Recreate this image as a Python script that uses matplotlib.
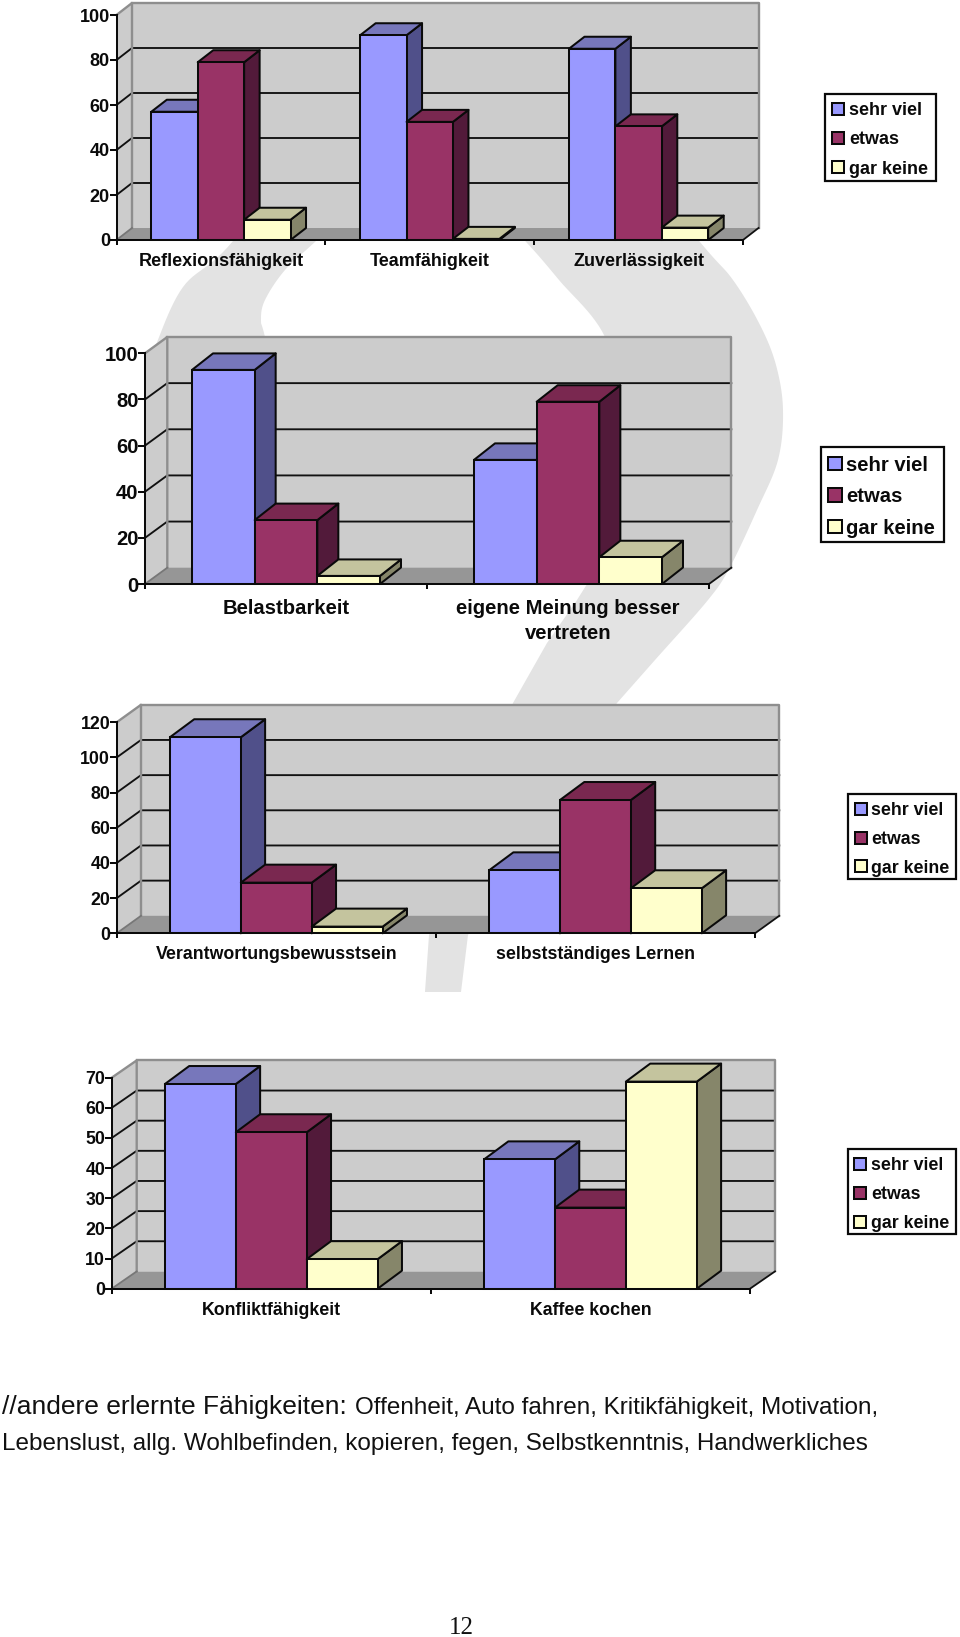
import numpy as np
import matplotlib
matplotlib.use("Agg")
import matplotlib.pyplot as plt
from matplotlib.patches import Polygon, Rectangle, Patch

plt.rcParams['font.family'] = ['Liberation Sans', 'DejaVu Sans']

W, H = 960, 1637
SERIES = ['sehr viel', 'etwas', 'gar keine']
FRONT = ['#9999ff', '#993366', '#ffffcc']
TOP = ['#7777bb', '#7a2850', '#c4c49e']
SIDE = ['#50508a', '#521a3a', '#86866a']

cats1 = ['Reflexionsfähigkeit', 'Teamfähigkeit', 'Zuverlässigkeit']
sehr1 = [57, 91, 85]
etwas1 = [79, 52.5, 50.5]
gar1 = [9, 0.5, 5.5]
ticks1 = [0, 20, 40, 60, 80, 100]

cats2 = ['Belastbarkeit', 'eigene Meinung besser\nvertreten']
sehr2 = [92.8, 53.8]
etwas2 = [27.7, 79]
gar2 = [3.5, 11.6]
ticks2 = [0, 20, 40, 60, 80, 100]

cats3 = ['Verantwortungsbewusstsein', 'selbstständiges Lernen']
sehr3 = [111.5, 35.8]
etwas3 = [28.8, 75.8]
gar3 = [3.8, 25.6]
ticks3 = [0, 20, 40, 60, 80, 100, 120]

cats4 = ['Konfliktfähigkeit', 'Kaffee kochen']
sehr4 = [67.9, 42.9]
etwas4 = [51.9, 26.9]
gar4 = [9.8, 68.7]
ticks4 = [0, 10, 20, 30, 40, 50, 60, 70]

fig = plt.figure(figsize=(W / 100, H / 100), dpi=100, facecolor='white')
PT = 0.72
INK = '#0a0a0a'
LW = 1.45

# page-level layer, in pixels
bg = fig.add_axes([0, 0, 1, 1], zorder=-1)
bg.set_xlim(0, W)
bg.set_ylim(H, 0)
bg.axis('off')


def smooth(pts, n=12):
    p = np.array(pts, float)
    p = np.vstack([p[0], p, p[-1]])
    out = []
    for i in range(1, len(p) - 2):
        for t in np.linspace(0, 1, n, endpoint=False):
            a, b, c, d = p[i - 1], p[i], p[i + 1], p[i + 2]
            out.append(0.5 * (2 * b + (c - a) * t + (2 * a - 5 * b + 4 * c - d) * t ** 2
                              + (3 * b - a - 3 * c + d) * t ** 3))
    out.append(p[-2])
    return out


# watermark question mark behind the charts
outer = smooth([(155, 347), (183, 287), (233, 241), (330, 110), (450, 50), (600, 120), (700, 242),
                (733, 280), (760, 325), (776, 365), (783, 410), (778, 460), (757, 510), (730, 567),
                (708, 600), (655, 660), (617, 703)])
inner = smooth([(640, 500), (625, 420), (605, 337), (559, 280), (527, 243), (495, 212), (420, 175), (370, 190),
                (316, 241), (285, 270), (265, 300), (261, 320), (265, 337), (285, 420)])
mark = ([(425, 992), (429, 935), (513, 703), (547, 643), (577, 600)] + inner
        + [(155, 420)] + outer + [(468, 935), (461, 992)])
bg.add_patch(Polygon(mark, closed=True, fc='#e3e3e3', ec='none'))


def chart(cats, sehr, etwas, gar, ticks, x0, x1, y0, ytop, dx, dy, bdx, bdy, fs, pad,
          box, swatch_x, first_row, pitch):
    px_w = x1 - x0
    px_h = y0 - ytop
    ax = fig.add_axes([x0 / W, 1 - y0 / H, px_w / W, px_h / H])
    ax.patch.set_visible(False)
    n = len(cats)
    vmax = ticks[-1]
    ax.set_xlim(-0.5, n - 0.5)
    ax.set_ylim(0, vmax)
    gu = n / px_w
    vu = vmax / px_h
    ddx, ddy = dx * gu, dy * vu
    bx, by = bdx * gu, bdy * vu
    L, R = -0.5, n - 0.5

    # walls and floor
    wall = '#cccccc'
    edge = '#8e8e8e'
    ax.add_patch(Polygon([(L, 0), (L + ddx, ddy), (L + ddx, vmax + ddy), (L, vmax)],
                         fc=wall, ec='none', clip_on=False, zorder=1))
    ax.add_patch(Rectangle((L + ddx, ddy), R - L, vmax, fc=wall, ec='none', clip_on=False, zorder=1))
    ax.add_patch(Polygon([(L, 0), (R, 0), (R + ddx, ddy), (L + ddx, ddy)],
                         fc='#969696', ec='none', clip_on=False, zorder=1.1))
    for v in ticks[1:-1]:
        ax.plot([L, L + ddx, R + ddx], [v, v + ddy, v + ddy], color='#111111', lw=1.35,
                clip_on=False, zorder=1.2, solid_joinstyle='miter')
    ax.plot([L, L + ddx, L + ddx], [vmax, vmax + ddy, ddy], color=edge, lw=1.7, clip_on=False, zorder=1.3)
    ax.plot([L + ddx, R + ddx, R + ddx], [vmax + ddy, vmax + ddy, ddy], color=edge, lw=1.7,
            clip_on=False, zorder=1.3)
    ax.plot([L, L + ddx], [0, ddy], color='#777777', lw=1.3, clip_on=False, zorder=1.3)
    ax.plot([R, R + ddx], [0, ddy], color='#111111', lw=1.3, clip_on=False, zorder=1.3)

    # bars
    width = 1 / 4.5
    z = 2.0
    for i in range(n):
        for j, vals in enumerate([sehr, etwas, gar]):
            v = vals[i]
            left = i + (j - 1.5) * width
            right = left + width
            ax.add_patch(Polygon([(right, 0), (right + bx, by), (right + bx, v + by), (right, v)],
                                 fc=SIDE[j], ec=INK, lw=LW, clip_on=False, zorder=z,
                                 joinstyle='round'))
            ax.add_patch(Polygon([(left, v), (left + bx, v + by), (right + bx, v + by), (right, v)],
                                 fc=TOP[j], ec=INK, lw=LW, clip_on=False, zorder=z + 0.01,
                                 joinstyle='round'))
            ax.bar(left, v, width=width, align='edge', color=FRONT[j], edgecolor=INK,
                   linewidth=LW, zorder=z + 0.02, clip_on=False)
            z += 0.1

    # axes
    for s in ['top', 'right']:
        ax.spines[s].set_visible(False)
    for s in ['left', 'bottom']:
        ax.spines[s].set_linewidth(LW)
        ax.spines[s].set_color(INK)
        ax.spines[s].set_zorder(50)
    ax.set_yticks(ticks)
    ax.tick_params(axis='y', length=5, width=LW, pad=-0.3, labelsize=fs * PT, color=INK)
    ax.set_xticks(range(n))
    ax.set_xticklabels(cats, fontsize=fs * PT)
    ax.tick_params(axis='x', which='major', length=0, pad=pad)
    ax.set_xticks(np.arange(-0.5, n), minor=True)
    ax.tick_params(axis='x', which='minor', length=3.6, width=LW, color=INK)
    for t in ax.get_xticklabels():
        t.set_fontweight('bold')
        t.set_linespacing(1.4)
        t.set_color(INK)
    for t in ax.get_yticklabels():
        t.set_fontweight('bold')
        t.set_color(INK)

    # legend
    bx0, by0, bx1, by1 = box
    bg.add_patch(Rectangle((bx0, by0), bx1 - bx0, by1 - by0, fc='white', ec=INK, lw=1.6))
    sw = pitch * 0.42
    hs = [Patch(fc=FRONT[k], ec=INK, lw=LW, label=SERIES[k]) for k in range(3)]
    row_h = fs * 0.94
    leg = fig.legend(handles=hs, loc='upper left', frameon=False, prop={'weight': 'bold', 'size': fs * PT},
                     bbox_to_anchor=(swatch_x / W, 1 - (first_row + 1.8 - row_h / 2) / H), borderpad=0,
                     borderaxespad=0, handlelength=sw / fs, handleheight=sw / fs,
                     handletextpad=4.7 / fs, labelspacing=(pitch - row_h) / fs)
    for t in leg.get_texts():
        t.set_color(INK)
    return ax


chart(cats1, sehr1, etwas1, gar1, ticks1, 116.5, 743, 240, 15, 15.5, 12, 15.5, 12, 18, 9.4,
      (825.3, 94.3, 936, 181.3), 832, 109, 29)
chart(cats2, sehr2, etwas2, gar2, ticks2, 145, 709, 584, 353.3, 22.3, 16.3, 21, 16.5, 20.3, 10.8,
      (821.3, 446.7, 944.3, 542.3), 828.3, 463.3, 31.7)
chart(cats3, sehr3, etwas3, gar3, ticks3, 116.7, 755, 933.3, 722.3, 24.3, 17.5, 24.3, 18, 17.7, 9.4,
      (848, 794, 956, 879.3), 854.7, 808.7, 28.3)
chart(cats4, sehr4, etwas4, gar4, ticks4, 111.7, 750, 1288.7, 1077.7, 25, 17.3, 24.3, 18, 17.7, 9.4,
      (847.7, 1149.3, 956, 1234.3), 854.3, 1164, 28.5)

# page text
bg.text(2, 1414, '//andere erlernte Fähigkeiten:', fontsize=26.4 * PT, va='baseline', color='#111111')
bg.text(355, 1414, 'Offenheit, Auto fahren, Kritikfähigkeit, Motivation,', fontsize=24.3 * PT,
        va='baseline', color='#111111')
bg.text(2, 1450, 'Lebenslust, allg. Wohlbefinden, kopieren, fegen, Selbstkenntnis, Handwerkliches',
        fontsize=24.25 * PT, va='baseline', color='#111111')
bg.text(461, 1634, '12', fontsize=25 * PT, family='Liberation Serif', ha='center', va='baseline',
        color='#111111')

fig.savefig('out.png', dpi=100)
